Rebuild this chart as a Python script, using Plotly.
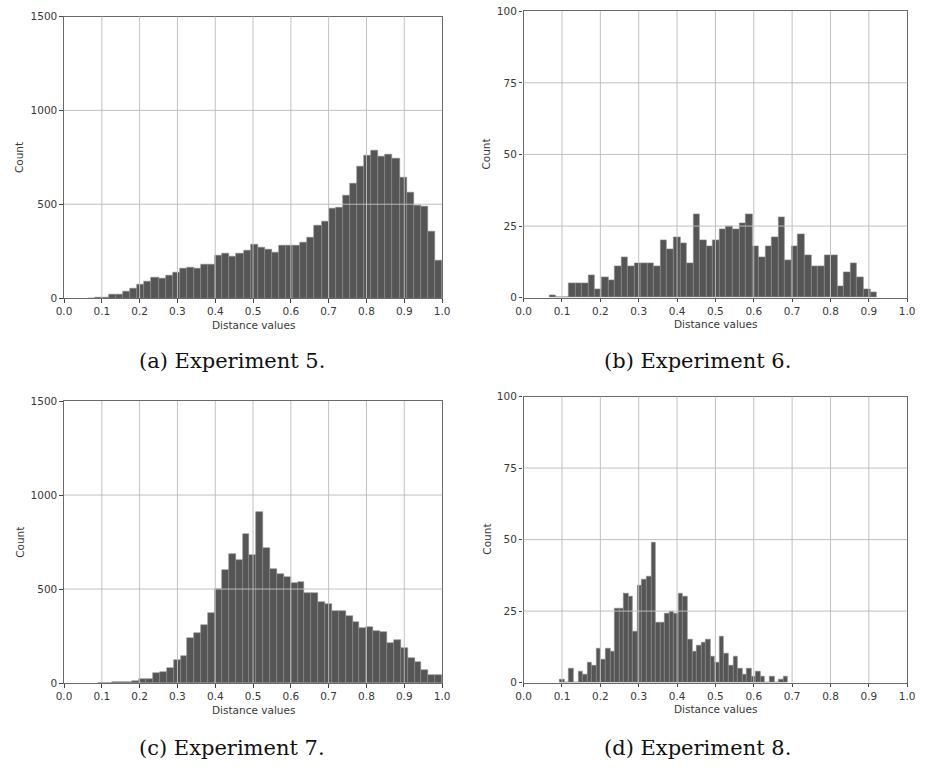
import numpy as np
import plotly.graph_objects as go

# Histogram counts per experiment (50 equal-width bins between lo and hi)
exp5_counts = [0, 1, 5, 17, 21, 37, 49, 73, 87, 112, 105, 122, 135, 157, 163, 157, 178,
               180, 227, 240, 224, 236, 253, 288, 271, 259, 245, 278, 280, 280, 297, 322,
               388, 409, 476, 481, 549, 610, 703, 757, 787, 755, 764, 745, 640, 563, 493,
               490, 355, 201]
exp5_range = [0.0625, 1.0]

exp6_counts = [1, 0, 0, 5, 5, 5, 8, 3, 7, 6, 11, 14, 11, 12, 12, 12, 11, 20, 17, 21,
               19, 12, 29, 20, 18, 20, 24, 25, 24, 26, 29, 18, 14, 18, 21, 28, 13, 18, 22, 15,
               11, 11, 15, 15, 4, 9, 12, 7, 3, 2]
exp6_range = [0.0666, 0.9206]

exp7_counts = [1, 2, 3, 5, 7, 10, 19, 23, 54, 58, 82, 122, 145, 241, 267, 306, 372,
               500, 603, 687, 656, 792, 682, 909, 719, 608, 580, 566, 530, 538, 476, 479,
               432, 418, 383, 381, 358, 322, 292, 299, 278, 269, 215, 227, 184, 131, 114,
               70, 40, 40]
exp7_range = [0.09, 1.0]

exp8_counts = [1, 0, 5, 0, 4, 3, 7, 6, 12, 8, 12, 11, 26, 26, 31, 30, 18, 34, 36, 37,
               49, 21, 21, 24, 25, 24, 31, 30, 15, 11, 13, 14, 15, 9, 7, 16, 10, 6, 9, 5,
               3, 5, 2, 4, 2, 0, 2, 0, 1, 2]
exp8_range = [0.0948, 0.689]

x_ticks = [round(0.1 * i, 1) for i in range(11)]
x_tick_labels = [f"{v:.1f}" for v in x_ticks]
y_ticks_large = [0, 500, 1000, 1500]
y_ticks_small = [0, 25, 50, 75, 100]

captions = ["(a) Experiment 5.", "(b) Experiment 6.", "(c) Experiment 7.", "(d) Experiment 8."]

W, H = 926, 772

# panel boxes in pixels: (left, right, top, bottom)
boxes = [
    (57.0, 441.7, 10.7, 296.7),
    (524.7, 915.0, 5.3, 296.3),
    (57.0, 441.7, 401.3, 687.7),
    (524.7, 915.0, 396.7, 687.3),
]
panels = [
    (exp5_counts, exp5_range, y_ticks_large),
    (exp6_counts, exp6_range, y_ticks_small),
    (exp7_counts, exp7_range, y_ticks_large),
    (exp8_counts, exp8_range, y_ticks_small),
]
caption_pos = [(228, 361), (702, 361), (228, 754), (702, 754)]

BAR = "#555555"
GRID = "rgba(190,190,190,0.95)"
FRAME = "#6a6a6a"
TXT = "#383838"
LABEL_FONT = dict(family="DejaVu Sans", size=10.5, color=TXT)

fig = go.Figure()
layout = dict(
    width=W, height=H,
    margin=dict(l=0, r=0, t=0, b=0),
    paper_bgcolor="white", plot_bgcolor="white",
    showlegend=False,
    bargap=0,
)
shapes = []
annotations = []

for i, ((counts, (lo, hi), yt), (l, r, t, b)) in enumerate(zip(panels, boxes)):
    n = len(counts)
    edges = np.linspace(lo, hi, n + 1)
    centers = (edges[:-1] + edges[1:]) / 2
    width = edges[1] - edges[0]
    xa = "x" if i == 0 else f"x{i+1}"
    ya = "y" if i == 0 else f"y{i+1}"
    fig.add_trace(go.Bar(
        x=centers, y=counts, width=width,
        marker=dict(color=BAR, line=dict(color="#8a8a8a", width=0.6)),
        xaxis=xa, yaxis=ya, hoverinfo="x+y",
    ))
    xkey = "xaxis" if i == 0 else f"xaxis{i+1}"
    ykey = "yaxis" if i == 0 else f"yaxis{i+1}"
    layout[xkey] = dict(
        domain=[l / W, r / W], anchor=ya, range=[0, 1],
        tickvals=x_ticks, ticktext=x_tick_labels, tickfont=LABEL_FONT,
        ticks="outside", ticklen=3.5, tickwidth=1, tickcolor="#444",
        showgrid=False, zeroline=False,
        showline=True, linecolor=FRAME, linewidth=1.3, mirror=True,
        layer="above traces",
    )
    layout[ykey] = dict(
        domain=[1 - b / H, 1 - t / H], anchor=xa, range=[0, yt[-1]],
        tickvals=yt, tickfont=LABEL_FONT,
        ticks="outside", ticklen=3.5, tickwidth=1, tickcolor="#444",
        showgrid=False, zeroline=False,
        showline=True, linecolor=FRAME, linewidth=1.3, mirror=True,
        layer="above traces",
    )
    # grid lines drawn on top of the bars
    for v in x_ticks[1:-1]:
        shapes.append(dict(type="line", xref=xa, yref=f"{ya} domain", x0=v, x1=v, y0=0, y1=1,
                           line=dict(color=GRID, width=1), layer="above"))
    for v in yt[1:-1]:
        shapes.append(dict(type="line", xref=f"{xa} domain", yref=ya, x0=0, x1=1, y0=v, y1=v,
                           line=dict(color=GRID, width=1), layer="above"))
    # axis titles
    annotations.append(dict(text="Distance values", xref="paper", yref="paper",
                            x=(l + r) / 2 / W, y=1 - (b + 27) / H,
                            showarrow=False, font=LABEL_FONT,
                            xanchor="center", yanchor="middle"))
    count_x = 12 if i % 2 == 0 else 486.5
    annotations.append(dict(text="Count", xref="paper", yref="paper",
                            x=count_x / W, y=1 - (t + b) / 2 / H, textangle=-90,
                            showarrow=False, font=LABEL_FONT,
                            xanchor="center", yanchor="middle"))
    cx, cy = caption_pos[i]
    annotations.append(dict(text=captions[i], xref="paper", yref="paper",
                            x=cx / W, y=1 - cy / H, showarrow=False,
                            font=dict(family="DejaVu Serif", size=21, color="#111"),
                            xanchor="center", yanchor="middle"))

layout["shapes"] = shapes
layout["annotations"] = annotations
fig.update_layout(**layout)
fig.write_html("out.html")
